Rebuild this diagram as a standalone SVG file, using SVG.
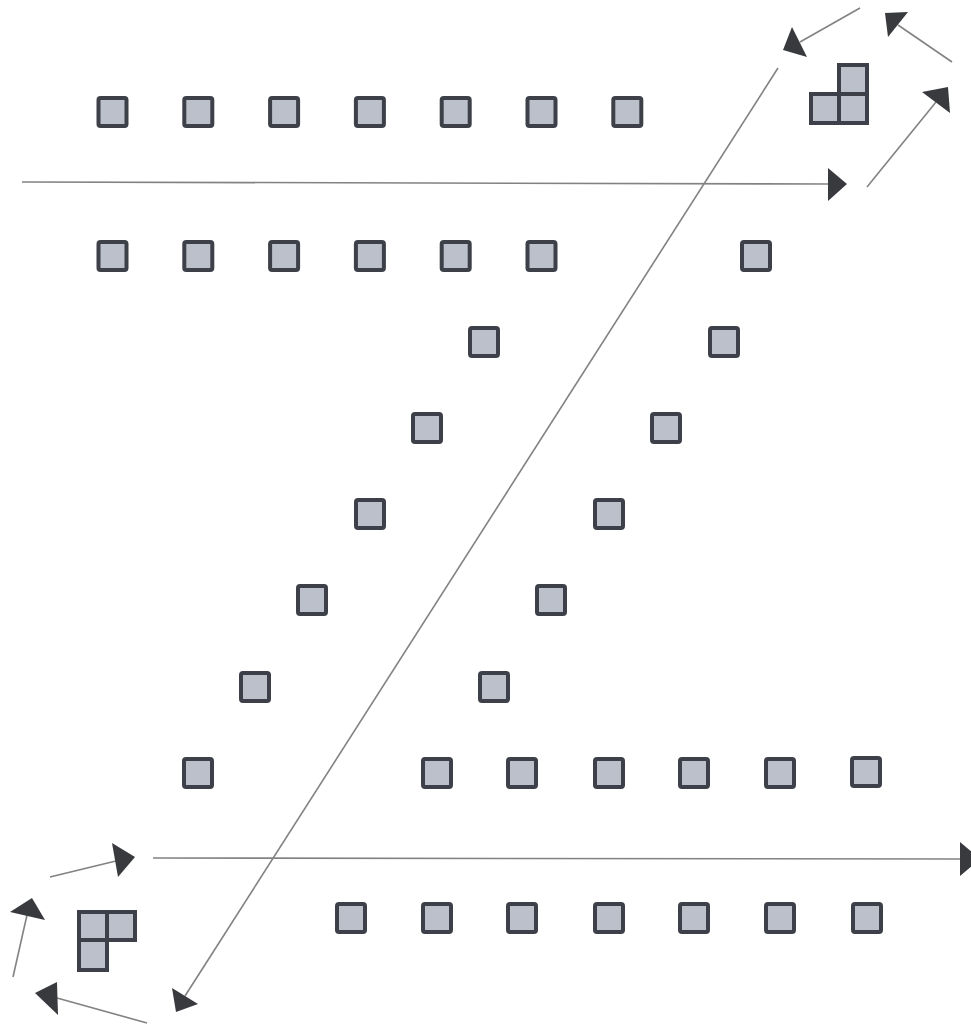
<svg xmlns="http://www.w3.org/2000/svg" width="971" height="1027" viewBox="0 0 971 1027">
<style>
.sq{fill:#bcc0cb;stroke:#3d4048;stroke-width:4;}
.ln{stroke:#828282;stroke-width:1.6;fill:none;}
.hd{fill:#383a3e;stroke:none;}
</style>
<defs>
<rect id="s" class="sq" x="-14" y="-14" width="28" height="28" rx="2"/>
</defs>
<rect width="971" height="1027" fill="#ffffff"/>
<g id="connectors">
<line class="ln" x1="22" y1="182" x2="830" y2="184"/>
<polygon class="hd" points="828,168 828,201 847,184"/>
<line class="ln" x1="867" y1="187" x2="936" y2="102"/>
<polygon class="hd" points="922,92 950,113 948,87"/>
<line class="ln" x1="952" y1="62" x2="898" y2="25"/>
<polygon class="hd" points="908,12 888,37 885,13"/>
<line class="ln" x1="860" y1="8" x2="800" y2="42"/>
<polygon class="hd" points="792,27 807,57 783,50"/>
<line class="ln" x1="778" y1="68" x2="185" y2="996"/>
<polygon class="hd" points="172,988 198,1004 176,1012"/>
<line class="ln" x1="147" y1="1023" x2="57" y2="998"/>
<polygon class="hd" points="57,982 58,1015 35,993"/>
<line class="ln" x1="13" y1="977" x2="27" y2="915"/>
<polygon class="hd" points="10,912 45,920 32,898"/>
<line class="ln" x1="50" y1="877" x2="120" y2="860"/>
<polygon class="hd" points="112,843 118,877 135,857"/>
<line class="ln" x1="153" y1="858" x2="962" y2="859"/>
<polygon class="hd" points="960,842 960,876 980,859"/>
</g>
<g id="row1">
<use href="#s" x="112.5" y="112"/>
<use href="#s" x="198.3" y="112"/>
<use href="#s" x="284.1" y="112"/>
<use href="#s" x="369.9" y="112"/>
<use href="#s" x="455.7" y="112"/>
<use href="#s" x="541.5" y="112"/>
<use href="#s" x="627.3" y="112"/>
</g>
<g id="row2">
<use href="#s" x="112.5" y="256"/>
<use href="#s" x="198.3" y="256"/>
<use href="#s" x="284.1" y="256"/>
<use href="#s" x="369.9" y="256"/>
<use href="#s" x="455.7" y="256"/>
<use href="#s" x="541.5" y="256"/>
<use href="#s" x="756" y="256"/>
</g>
<g id="diagonal-left">
<use href="#s" x="484" y="342"/>
<use href="#s" x="427" y="428"/>
<use href="#s" x="370" y="514"/>
<use href="#s" x="312" y="600"/>
<use href="#s" x="255" y="687"/>
<use href="#s" x="198" y="773"/>
</g>
<g id="diagonal-right">
<use href="#s" x="724" y="342"/>
<use href="#s" x="666" y="428"/>
<use href="#s" x="609" y="514"/>
<use href="#s" x="551" y="600"/>
<use href="#s" x="494" y="687"/>
</g>
<g id="row8">
<use href="#s" x="437" y="773"/>
<use href="#s" x="522" y="773"/>
<use href="#s" x="609" y="773"/>
<use href="#s" x="694" y="773"/>
<use href="#s" x="780" y="773"/>
<use href="#s" x="866" y="772"/>
</g>
<g id="row9">
<use href="#s" x="351" y="918"/>
<use href="#s" x="437" y="918"/>
<use href="#s" x="522" y="918"/>
<use href="#s" x="609" y="918"/>
<use href="#s" x="694" y="918"/>
<use href="#s" x="780" y="918"/>
<use href="#s" x="867" y="918"/>
</g>
<g id="block-top-right">
<rect class="sq" x="839" y="65" width="28" height="29"/>
<rect class="sq" x="811" y="94" width="28" height="29"/>
<rect class="sq" x="839" y="94" width="28" height="29"/>
</g>
<g id="block-bottom-left">
<rect class="sq" x="79" y="912" width="28" height="28"/>
<rect class="sq" x="107" y="912" width="28" height="28"/>
<rect class="sq" x="79" y="940" width="28" height="30"/>
</g>
</svg>
